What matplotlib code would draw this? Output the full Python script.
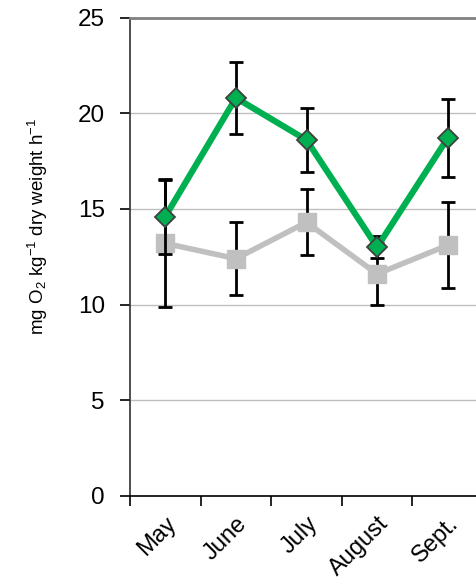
import matplotlib
matplotlib.use("Agg")
import matplotlib.pyplot as plt
import numpy as np

plt.rcParams['font.family'] = ['Liberation Sans', 'DejaVu Sans']

months = ["May", "June", "July", "August", "Sept."]
green_vals = [14.6, 20.8, 18.6, 13.0, 18.7]
green_err = [1.95, 1.9, 1.65, 0.58, 2.03]
gray_vals = [13.2, 12.4, 14.3, 11.6, 13.1]
gray_err = [3.3, 1.9, 1.73, 1.63, 2.24]
yticks = [0, 5, 10, 15, 20, 25]

fig = plt.figure(figsize=(4.77, 5.77), dpi=100)
ax = fig.add_axes([130/477, 1 - 496/577, 353/477, (496 - 17.5)/577])

x = np.arange(len(months))
ax.errorbar(x, gray_vals, yerr=gray_err, fmt='none', ecolor='black', elinewidth=2,
            capsize=5, capthick=2, zorder=3)
ax.plot(x, gray_vals, color='#C0C0C0', lw=4, marker='s', markersize=12.5,
        markerfacecolor='#C0C0C0', markeredgecolor='#C0C0C0', zorder=4)
ax.errorbar(x, green_vals, yerr=green_err, fmt='none', ecolor='black', elinewidth=2,
            capsize=5, capthick=2, zorder=5)
ax.plot(x, green_vals, color='#00B050', lw=4.5, marker='D', markersize=10.5,
        markerfacecolor='#00B050', markeredgecolor='#404040', markeredgewidth=1.3, zorder=6)

ax.set_xlim(-0.5, 4.5)
ax.set_ylim(0, 25)
ax.set_yticks(yticks)
ax.set_yticklabels([str(t) for t in yticks], fontsize=17.5)
for t in [5, 10, 15, 20]:
    ax.axhline(t, color='#BEBEBE', lw=1, zorder=1)

ax.set_xticks(np.arange(-0.5, 5, 1.0))
ax.set_xticklabels([])
ax.set_xticks(x, minor=True)
ax.set_xticklabels(months, minor=True, rotation=45, ha='right', rotation_mode='anchor', fontsize=17)
ax.tick_params(axis='x', which='minor', length=0, pad=12)
ax.tick_params(axis='x', which='major', direction='out', length=7, width=1.2)
ax.tick_params(axis='y', direction='out', length=7, width=1.2, pad=11)

ax.spines['top'].set_color('#808080')
ax.spines['top'].set_linewidth(2)
ax.spines['right'].set_visible(False)
ax.spines['left'].set_linewidth(1.2)
ax.spines['left'].set_color('#303030')
ax.spines['bottom'].set_linewidth(1.2)

ax.set_ylabel(r'mg O$\mathregular{_2}$ kg$\mathregular{^{-1}}$ dry weight h$\mathregular{^{-1}}$', fontsize=13.5)
ax.yaxis.set_label_coords(-0.227, 0.564)

fig.savefig("out.png", dpi=100)
